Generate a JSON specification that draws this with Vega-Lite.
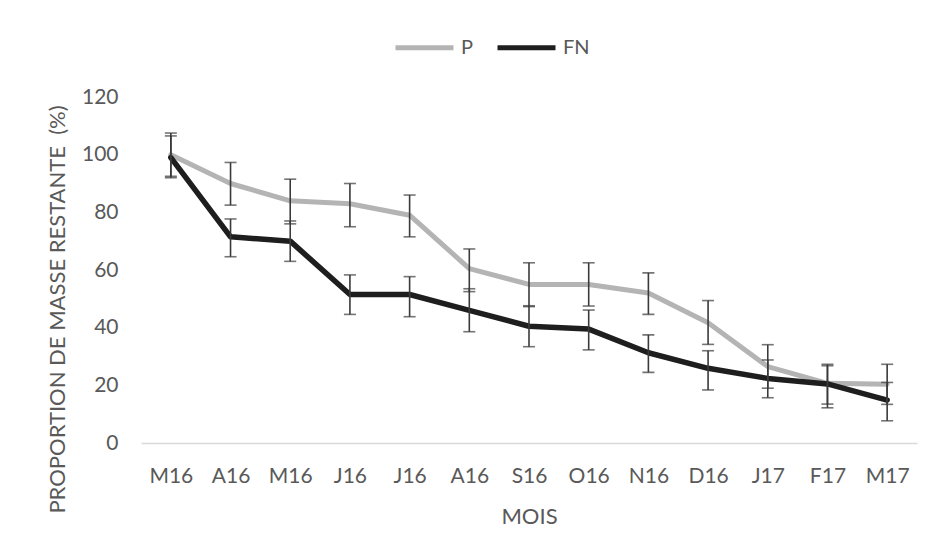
{
  "$schema": "https://vega.github.io/schema/vega-lite/v6.json",
  "width": 776,
  "height": 346,
  "autosize": "none",
  "padding": {"left": 141, "top": 97, "right": 18, "bottom": 115},
  "background": "#ffffff",
  "config": {
    "view": {"stroke": null},
    "font": "Lato",
    "axis": {"labelFont": "Lato", "titleFont": "Lato", "labelColor": "#595959", "titleColor": "#595959", "titleFontWeight": "normal"},
    "legend": {"labelFont": "Lato", "labelColor": "#595959"}
  },
  "data": {
    "values": [
      {"mois": "M16|1", "serie": "P", "val": 100, "lo": 92.5, "hi": 107.5},
      {"mois": "A16|1", "serie": "P", "val": 90, "lo": 82.5, "hi": 97.3},
      {"mois": "M16|2", "serie": "P", "val": 84, "lo": 76, "hi": 91.5},
      {"mois": "J16|1", "serie": "P", "val": 83, "lo": 75, "hi": 90},
      {"mois": "J16|2", "serie": "P", "val": 79, "lo": 71.5, "hi": 86},
      {"mois": "A16|2", "serie": "P", "val": 60.5, "lo": 52.5, "hi": 67.3},
      {"mois": "S16", "serie": "P", "val": 55, "lo": 47.3, "hi": 62.5},
      {"mois": "O16", "serie": "P", "val": 55, "lo": 47.5, "hi": 62.5},
      {"mois": "N16", "serie": "P", "val": 52, "lo": 44.6, "hi": 59},
      {"mois": "D16", "serie": "P", "val": 41.7, "lo": 34.2, "hi": 49.4},
      {"mois": "J17", "serie": "P", "val": 26.5, "lo": 19, "hi": 34.1},
      {"mois": "F17", "serie": "P", "val": 20.7, "lo": 13.5, "hi": 27.3},
      {"mois": "M17", "serie": "P", "val": 20.4, "lo": 13.4, "hi": 27.3},
      {"mois": "M16|1", "serie": "FN", "val": 99, "lo": 92, "hi": 106.5},
      {"mois": "A16|1", "serie": "FN", "val": 71.5, "lo": 64.6, "hi": 77.7},
      {"mois": "M16|2", "serie": "FN", "val": 70, "lo": 63, "hi": 77},
      {"mois": "J16|1", "serie": "FN", "val": 51.5, "lo": 44.6, "hi": 58.3},
      {"mois": "J16|2", "serie": "FN", "val": 51.5, "lo": 43.8, "hi": 57.7},
      {"mois": "A16|2", "serie": "FN", "val": 46, "lo": 38.6, "hi": 53.5},
      {"mois": "S16", "serie": "FN", "val": 40.5, "lo": 33.4, "hi": 47.6},
      {"mois": "O16", "serie": "FN", "val": 39.5, "lo": 32.3, "hi": 46.1},
      {"mois": "N16", "serie": "FN", "val": 31.3, "lo": 24.5, "hi": 37.5},
      {"mois": "D16", "serie": "FN", "val": 25.9, "lo": 18.4, "hi": 32},
      {"mois": "J17", "serie": "FN", "val": 22.4, "lo": 15.7, "hi": 28.8},
      {"mois": "F17", "serie": "FN", "val": 20.5, "lo": 12.2, "hi": 26.8},
      {"mois": "M17", "serie": "FN", "val": 14.9, "lo": 7.7, "hi": 21}
    ]
  },
  "encoding": {
    "x": {
      "field": "mois",
      "type": "ordinal",
      "scale": {"type": "point", "padding": 0.5, "domain": ["M16|1", "A16|1", "M16|2", "J16|1", "J16|2", "A16|2", "S16", "O16", "N16", "D16", "J17", "F17", "M17"]},
      "axis": {
        "title": "MOIS",
        "labelExpr": "split(datum.label, '|')[0]",
        "labelAngle": 0,
        "labelFontSize": 21,
        "titleFontSize": 22,
        "labelPadding": 22,
        "titlePadding": 20,
        "ticks": false,
        "domainColor": "#d9d9d9",
        "domainWidth": 1.5,
        "grid": false
      }
    }
  },
  "layer": [
    {
      "transform": [{"filter": "datum.serie === 'P'"}],
      "mark": {"type": "line", "strokeWidth": 5, "strokeJoin": "round", "strokeCap": "round"},
      "encoding": {
        "y": {
          "field": "val",
          "type": "quantitative",
          "scale": {"domain": [0, 120], "nice": false},
          "axis": {
            "title": "PROPORTION DE MASSE RESTANTE\u00a0 (%)",
            "values": [0, 20, 40, 60, 80, 100, 120],
            "labelFontSize": 21,
            "titleFontSize": 22,
            "labelPadding": 23,
            "titlePadding": 12,
            "titleY": 212,
            "ticks": false,
            "domain": false,
            "grid": false
          }
        },
        "color": {
          "field": "serie",
          "type": "nominal",
          "scale": {"domain": ["P", "FN"], "range": ["#b4b4b4", "#1e1e1e"]},
          "legend": {
            "title": null,
            "orient": "none",
            "direction": "horizontal",
            "legendX": 252,
            "legendY": -81,
            "padding": 0,
            "symbolType": "stroke",
            "symbolSize": 3364,
            "symbolStrokeWidth": 5,
            "labelFontSize": 20,
            "labelOffset": 5,
            "columnPadding": 13,
            "encoding": {"symbols": {"update": {"strokeCap": {"value": "round"}}}}
          }
        }
      }
    },
    {
      "transform": [{"filter": "datum.serie === 'FN'"}],
      "mark": {"type": "line", "strokeWidth": 5.5, "strokeJoin": "round", "strokeCap": "round"},
      "encoding": {
        "y": {"field": "val", "type": "quantitative"},
        "color": {"field": "serie", "type": "nominal"}
      }
    },
    {
      "mark": {"type": "rule", "color": "#3a3a3a", "strokeWidth": 1.6},
      "encoding": {
        "y": {"field": "lo", "type": "quantitative"},
        "y2": {"field": "hi"}
      }
    },
    {
      "mark": {"type": "tick", "color": "#3a3a3a", "thickness": 1.6, "size": 12},
      "encoding": {
        "y": {"field": "lo", "type": "quantitative"}
      }
    },
    {
      "mark": {"type": "tick", "color": "#3a3a3a", "thickness": 1.6, "size": 12},
      "encoding": {
        "y": {"field": "hi", "type": "quantitative"}
      }
    }
  ]
}
